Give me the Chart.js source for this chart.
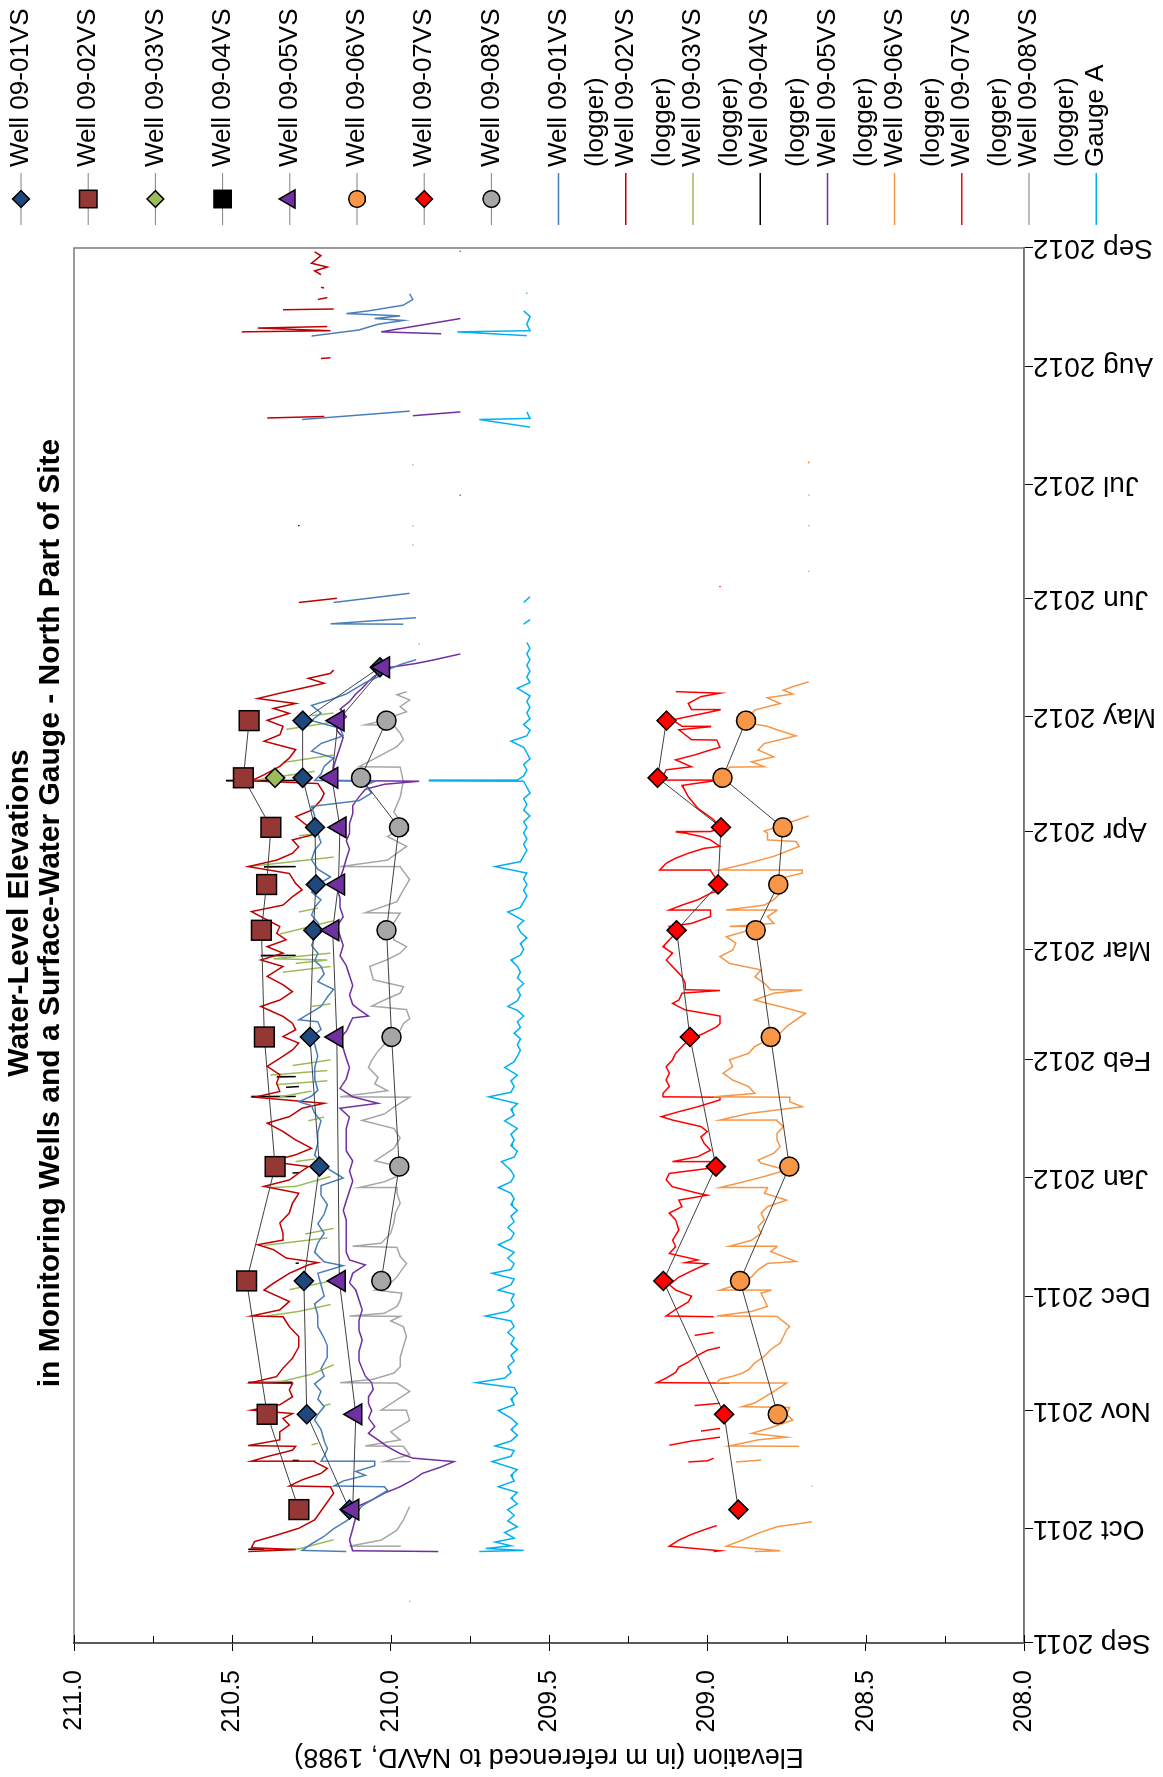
<!DOCTYPE html>
<html>
<head>
<meta charset="utf-8">
<script src="https://cdn.jsdelivr.net/npm/chart.js@4.4.0/dist/chart.umd.min.js"></script>
<style>
  html, body { margin: 0; padding: 0; background: #fff; overflow: hidden; }
  #wrap { position: absolute; left: 0; top: 0; width: 1777px; height: 1163px;
          transform-origin: 0 0; transform: translateY(1777px) rotate(-90deg); background: #fff; }
  canvas { display: block; }
</style>
</head>
<body>
<div id="wrap"><canvas id="chart" width="1777" height="1163"></canvas></div>
<script>
// x values are days since 1 Sep 2011
const monthDays = [0, 30, 61, 91, 122, 153, 182, 213, 243, 274, 304, 335, 366];
const monthLabels = ['Sep 2011', 'Oct 2011', 'Nov 2011', 'Dec 2011', 'Jan 2012', 'Feb 2012', 'Mar 2012',
  'Apr 2012', 'May 2012', 'Jun 2012', 'Jul 2012', 'Aug 2012', 'Sep 2012'];
const elevTicks = [208.0, 208.5, 209.0, 209.5, 210.0, 210.5, 211.0];

// manual measurements (site visits)
const visitDays = [35, 60, 95, 125, 159, 187, 199, 214, 227, 242, 256];
const well01 = [210.13, 210.265, 210.274, 210.225, 210.255, 210.244, 210.236, 210.239, 210.278, 210.278, 210.034];
const well02 = [210.29, 210.39, 210.455, 210.365, 210.399, 210.408, 210.392, 210.378, 210.465, 210.447, null];
const well03 = [null, null, null, null, null, null, null, null, 210.365, null, null];
const well04 = [null, null, null, null, null, null, null, null, null, null, null];
const well05 = [210.12, 210.11, 210.162, null, 210.17, 210.183, 210.165, 210.16, 210.186, 210.166, 210.023];
const well06 = [null, 208.778, 208.897, 208.741, 208.8, 208.847, 208.776, 208.762, 208.952, 208.878, null];
const well07 = [208.902, 208.947, 209.139, 208.973, 209.055, 209.097, 208.966, 208.957, 209.157, 209.129, null];
const well08 = [null, null, 210.03, 209.973, 209.997, 210.013, null, 209.974, 210.094, 210.013, null];

// logger records [day, elevation]; null elevation = gap
const logger01 = [[24,210.14],[24.3,210.28],[26,210.25],[28,210.21],[30,210.18],[32,210.14],[34,210.11],[36,210.09],[38.5,210.04],[40,210.01],[41,210.02],[41.2,210.18],[42.5,210.15],[44,210.08],[45,210.11],[46.5,210.05],[47.5,210.05],[47.7,210.22],[49,210.21],[51,210.20],[53,210.21],[56,210.22],[58.5,210.24],[60,210.23],[62,210.21],[64,210.23],[66,210.22],[68,210.24],[70,210.21],[72,210.22],[75,210.20],[78,210.20],[80,210.21],[83,210.23],[86,210.23],[89,210.24],[91,210.21],[94,210.22],[97,210.23],[99,210.15],[100,210.21],[102.5,210.24],[105,210.23],[107.5,210.21],[110,210.23],[112.5,210.21],[115,210.20],[117.5,210.22],[120,210.22],[122,210.15],[124,210.19],[126,210.22],[128,210.24],[131,210.23],[134,210.23],[137,210.22],[139,210.24],[141,210.25],[142,210.29],[143.5,210.25],[145,210.23],[148,210.24],[151,210.24],[154,210.23],[157,210.24],[159,210.25],[161,210.22],[163,210.23],[163.5,210.29],[165,210.26],[167,210.22],[169.5,210.20],[171.5,210.18],[173.5,210.23],[175.5,210.21],[177.5,210.22],[179,210.24],[181,210.23],[183,210.25],[185,210.24],[187,210.22],[189,210.23],[191,210.25],[193,210.24],[195,210.22],[197,210.25],[199,210.23],[201,210.19],[203,210.23],[205.5,210.25],[208,210.24],[210,210.22],[212.5,210.23],[214.5,210.25],[217,210.24],[219.5,210.25],[221,210.10],[223,210.06],[225,210.08],[226.1,210.05],[226.3,210.24],[228,210.22],[230,210.21],[232.2,210.18],[234,210.25],[236,210.22],[238,210.15],[240,210.16],[242,210.25],[244,210.22],[246,210.25],[247.5,210.19],[249,210.14],[250.5,210.11],[252,210.08],[253.5,210.04],[255,210.02],[256.7,209.97],[258,209.92],[258.1,null],[262,209.91],[262.2,209.91],[262.3,null],[267.3,209.96],[267.4,210.19],[269,209.92],[269.1,null],[273,210.18],[275.4,209.94],[275.5,null],[288,209.93],[288.2,209.93],[288.3,null],[293,209.93],[293.2,209.93],[293.3,null],[309,209.93],[309.2,209.93],[309.3,null],[321,210.28],[323.2,209.94],[323.3,null],[342.9,210.25],[344.5,210.10],[346,210.04],[347,209.96],[347.5,210.05],[348.2,209.97],[348.8,210.14],[349.5,210.07],[351,209.96],[352.5,209.93],[354,209.94]];
const logger02 = [[24,210.45],[24.5,210.30],[25,210.44],[26.6,210.43],[28.3,210.36],[30.1,210.29],[32.3,210.24],[35.8,210.21],[39.3,210.18],[41,210.19],[41.2,210.32],[42.8,210.28],[44.5,210.22],[45.8,210.20],[47.5,210.24],[47.7,210.44],[48.9,210.39],[50.6,210.31],[51.6,210.30],[51.8,210.45],[53.3,210.35],[55.4,210.35],[57.2,210.32],[58.9,210.34],[60.2,210.31],[61.1,210.44],[62.5,210.35],[64.6,210.31],[66.4,210.32],[68.1,210.31],[68.3,210.44],[69.9,210.36],[72.1,210.34],[74.7,210.31],[77.7,210.29],[80.4,210.29],[83,210.32],[85.6,210.34],[85.8,210.44],[87.4,210.35],[89.6,210.32],[92.6,210.40],[94.4,210.37],[97,210.32],[99.2,210.26],[99.8,210.23],[101,210.33],[103.2,210.37],[104.5,210.42],[105.7,210.34],[107.5,210.34],[110.2,210.35],[112.8,210.32],[115.4,210.31],[118,210.29],[119.8,210.40],[121.5,210.32],[123.3,210.29],[125,210.26],[126.3,210.38],[128.1,210.30],[129.8,210.25],[132,210.30],[134.2,210.34],[136.4,210.39],[138.1,210.32],[140.3,210.28],[141.6,210.21],[143.2,210.43],[144.7,210.35],[146.9,210.36],[149.1,210.35],[151.3,210.39],[153.4,210.35],[155.6,210.31],[157.4,210.29],[159.1,210.34],[160.9,210.30],[162.6,210.31],[164.4,210.34],[167,210.41],[168.7,210.35],[170.9,210.31],[172.7,210.34],[174.9,210.39],[177.5,210.34],[179.2,210.41],[181,210.34],[182.7,210.39],[184.5,210.33],[186.2,210.36],[188,210.35],[189.7,210.39],[191.9,210.44],[193.6,210.34],[195.8,210.31],[197.6,210.28],[199.3,210.30],[201.9,210.32],[203.7,210.45],[205.4,210.36],[207.2,210.31],[208.9,210.29],[210.7,210.31],[212.4,210.23],[214.2,210.26],[216.8,210.30],[218.5,210.25],[221.2,210.22],[222.9,210.21],[225.5,210.23],[226.2,210.44],[227.8,210.40],[230,210.35],[232.2,210.32],[234.4,210.30],[236.6,210.40],[238.3,210.35],[240.5,210.34],[242.1,210.39],[243.9,210.32],[245.2,210.37],[246.5,210.30],[247.8,210.42],[249.2,210.35],[250.5,210.28],[251.8,210.21],[253.1,210.26],[254.4,210.19],[255.3,210.18],[255.4,null],[273,210.29],[274.1,210.17],[274.2,null],[321.4,210.39],[321.8,210.21],[321.9,null],[337,210.22],[337.2,210.19],[337.3,null],[344,210.47],[344.3,210.19],[345,210.42],[345.4,210.20],[345.5,null],[349.8,210.34],[350,210.18],[350.1,null],[352.5,210.23],[353,210.20],[353.1,null],[355.5,210.21],[355.7,210.22],[355.8,null],[359,210.22],[360,210.24],[361,210.20],[362,210.25],[364,210.22],[365,210.24]];
const logger03 = [[24.4,210.40],[24.7,210.29],[27.1,210.18],[27.2,null],[52,210.25],[52.4,210.23],[52.5,null],[62.3,210.21],[62.7,210.19],[62.8,null],[68.3,210.44],[68.7,210.34],[70.5,210.25],[73,210.18],[73.1,null],[85.8,210.39],[87,210.29],[88.8,210.19],[88.9,null],[92.7,210.32],[94.8,210.20],[94.9,null],[104.3,210.40],[106.3,210.20],[106.4,null],[107.3,210.27],[108.8,210.18],[108.9,null],[119.5,210.38],[119.8,210.30],[122.4,210.19],[122.5,null],[126.3,210.30],[127,210.24],[127.1,null],[137,210.26],[138,210.21],[138.1,null],[143.3,210.35],[144.8,210.25],[144.9,null],[146.5,210.36],[147.5,210.20],[147.6,null],[149,210.38],[150.2,210.20],[150.3,null],[151.5,210.31],[153,210.19],[153.1,null],[167,210.25],[167.7,210.19],[167.8,null],[176,210.34],[177.5,210.19],[177.6,null],[178.3,210.30],[179.2,210.20],[179.5,210.37],[181,210.19],[181.1,null],[186,210.35],[189.5,210.18],[189.6,null],[191.8,210.29],[192.8,210.23],[192.9,null],[203.7,210.45],[206.2,210.18],[206.3,null],[211.8,210.29],[212.4,210.23],[212.5,null],[226.2,210.44],[228.7,210.24],[228.8,null],[231,210.34],[233,210.18],[233.1,null],[239.7,210.33],[241.5,210.19],[241.6,null],[243.3,210.25],[244,210.18]];
const logger04 = [[24.6,210.45],[24.7,210.36],[24.8,null],[47.8,210.31],[47.9,210.29],[48,null],[68.3,210.45],[68.4,210.31],[68.5,null],[99.6,210.30],[99.7,210.29],[99.8,null],[123.3,210.31],[123.4,210.29],[123.5,null],[143.3,210.44],[143.4,210.30],[143.5,null],[145.8,210.33],[146,210.29],[146.1,null],[148.5,210.36],[148.6,210.30],[148.7,null],[180.3,210.41],[180.4,210.30],[180.5,null],[203.6,210.40],[203.7,210.30],[203.8,null],[226.2,210.52],[226.3,210.26],[226.4,null],[293,210.29],[293.3,210.29]];
const logger05 = [[24,209.85],[24.2,210.12],[27,210.13],[30,210.12],[33,210.11],[35,210.11],[36,210.10],[37.5,210.06],[39.3,210.02],[41,209.97],[42.8,209.93],[44.5,209.90],[46.2,209.84],[47.6,209.80],[48.5,209.93],[49.7,209.97],[51.5,210.01],[53.3,210.04],[55,210.07],[56.8,210.05],[59,210.07],[61,210.06],[62.8,210.07],[64.6,210.07],[66.5,210.055],[68.3,210.06],[70,210.08],[72,210.09],[74,210.10],[76.5,210.10],[79.5,210.09],[82,210.10],[84.7,210.10],[87.4,210.09],[90,210.10],[92.6,210.11],[94.5,210.13],[97,210.12],[99.2,210.08],[100.5,210.13],[102.5,210.14],[105,210.14],[108.5,210.14],[111,210.14],[113.5,210.15],[116,210.14],[118.6,210.13],[121.2,210.12],[123.8,210.13],[126.5,210.12],[129.1,210.14],[131.7,210.14],[135,210.14],[138,210.13],[140.3,210.16],[141.6,210.04],[143.3,210.12],[145.5,210.16],[148,210.14],[151,210.13],[153.4,210.14],[156,210.15],[158.7,210.16],[160.5,210.14],[162.3,210.13],[164,210.12],[164.5,210.07],[166.2,210.10],[167.5,210.12],[170,210.13],[172.5,210.12],[175.1,210.13],[177.7,210.14],[180.3,210.16],[183,210.15],[185.5,210.16],[188,210.17],[190.5,210.15],[193,210.16],[195.5,210.16],[198,210.17],[200.5,210.16],[203,210.15],[205.7,210.14],[208.3,210.13],[210.5,210.14],[212.4,210.13],[215,210.13],[217.6,210.12],[219.7,210.12],[222,210.10],[224,210.08],[225.3,210.02],[226.1,209.91],[226.3,210.18],[228,210.18],[230,210.18],[232.5,210.17],[235,210.16],[237.6,210.15],[239.4,210.17],[241.1,210.17],[243,210.14],[245,210.16],[247,210.13],[249,210.11],[250.5,210.09],[252.3,210.07],[253.8,210.05],[255,210.02],[256,210.0],[257,209.92],[258,209.86],[259.5,209.78],[259.6,null],[301,209.78],[301.3,209.78],[301.4,null],[322,209.93],[323,209.78],[323.1,null],[343.5,209.84],[344,210.03],[347.5,209.78],[347.6,null],[365,209.78],[365.3,209.78]];
const logger06 = [[24,208.85],[24.2,208.77],[25.4,208.94],[27,208.89],[28.8,208.84],[30.5,208.78],[31.2,208.72],[31.8,208.67],[31.9,null],[41,208.67],[41.3,208.67],[41.4,null],[47.5,208.91],[48,208.83],[48.1,null],[51.6,208.71],[51.7,208.93],[53.3,208.84],[54,208.75],[55,208.86],[56.5,208.80],[58.5,208.73],[60,208.75],[61.8,208.74],[62,208.89],[63,208.85],[64.5,208.82],[66,208.79],[68.2,208.75],[68.3,208.97],[69.2,208.96],[70,208.92],[70.8,208.89],[71.7,208.87],[73.5,208.85],[75.2,208.82],[77,208.80],[78.7,208.77],[80.4,208.76],[82.2,208.75],[83,208.74],[85.7,208.78],[85.8,208.97],[87,208.86],[88.3,208.81],[90,208.82],[91.8,208.83],[92.5,208.80],[92.6,208.96],[94.4,208.89],[96.1,208.86],[97.9,208.84],[99.6,208.81],[100.1,208.72],[101.4,208.76],[102.7,208.80],[104,208.78],[104.1,208.93],[105.7,208.86],[107.5,208.83],[109.2,208.84],[111,208.82],[112.8,208.83],[114.5,208.81],[116.2,208.75],[118,208.82],[119.4,208.81],[119.5,208.96],[120.7,208.90],[122.4,208.82],[124.1,208.75],[125.9,208.83],[126.7,208.84],[128.5,208.79],[130.2,208.77],[132,208.78],[133.7,208.78],[135.5,208.76],[137,208.78],[137.2,208.96],[138.9,208.87],[140.7,208.70],[142,208.74],[143.2,208.74],[143.3,208.98],[144.2,208.85],[146,208.87],[147.7,208.92],[149.5,208.95],[151.2,208.92],[153,208.93],[154.7,208.87],[156.5,208.85],[158.2,208.81],[160,208.77],[161.7,208.75],[163.5,208.72],[165.2,208.69],[166.1,208.73],[167,208.77],[167.8,208.81],[168.7,208.85],[169.6,208.82],[170.5,208.79],[171.3,208.70],[171.4,208.80],[173.1,208.82],[174.8,208.85],[176.6,208.83],[178.3,208.93],[180.1,208.96],[181.8,208.92],[183.6,208.91],[185.3,208.94],[187.9,208.83],[188,208.93],[188.8,208.79],[190.6,208.81],[192.2,208.78],[192.3,208.94],[193.6,208.82],[195,208.79],[196.7,208.77],[197.6,208.78],[200.2,208.79],[202,208.70],[202.7,208.70],[202.8,208.96],[204.6,208.87],[205.5,208.83],[206.4,208.79],[207.7,208.75],[209,208.71],[210.3,208.72],[210.7,208.81],[212.5,208.81],[213,208.82],[215,208.75],[217,208.68],[217.1,null],[226.4,208.96],[227.3,208.95],[229.8,208.93],[229.9,208.82],[231.2,208.86],[232.5,208.79],[234.3,208.84],[236,208.82],[238,208.72],[239.6,208.78],[240.5,208.81],[241.5,208.88],[243,208.87],[244.8,208.85],[246.5,208.77],[248,208.81],[249,208.73],[250,208.76],[250.9,208.73],[252.2,208.68],[252.3,null],[281,208.68],[281.3,208.68],[281.4,null],[293,208.68],[293.3,208.68],[293.4,null],[301,208.68],[301.3,208.68],[301.4,null],[309.5,208.68],[310,208.68]];
const logger07 = [[24,208.98],[24.2,208.96],[25.4,209.12],[27,209.09],[28.5,209.05],[30,209.00],[30.8,208.97],[30.9,null],[47.5,209.06],[47.8,209.00],[48.5,208.98],[48.6,null],[51.9,209.12],[53,209.05],[54,208.96],[54.1,null],[55.6,209.02],[56.3,208.96],[56.4,null],[62.3,209.04],[62.9,208.96],[63,null],[68.2,208.93],[68.3,209.16],[69.5,209.13],[71,209.10],[72.4,209.09],[73.7,209.06],[75.5,209.03],[76.8,209.00],[77.6,208.96],[77.7,null],[80.7,209.04],[81.5,208.98],[81.6,null],[85.6,208.98],[85.8,209.13],[87.5,209.10],[89.5,209.06],[91,209.05],[92.6,209.10],[94,209.12],[96,209.09],[98,209.04],[99.5,209.00],[99.8,209.07],[100.5,209.03],[102.2,209.12],[104,209.10],[105.7,209.11],[108.4,209.09],[111,209.10],[112.8,209.12],[114.5,209.08],[116.2,209.09],[117.5,209.00],[118,209.03],[119.7,209.11],[121.5,209.13],[123.2,209.12],[124.8,208.97],[126.2,208.97],[126.3,209.11],[127.6,209.03],[129.3,208.99],[131.1,209.01],[132.8,209.02],[134.2,209.00],[135.5,209.02],[137.2,209.11],[138.1,209.145],[139.4,209.09],[140.7,209.03],[142.5,208.96],[143.2,208.96],[143.3,209.14],[144.2,209.14],[146,209.12],[147.7,209.13],[149.5,209.12],[151.2,209.13],[153,209.11],[154.7,209.10],[156.5,209.08],[158.2,209.06],[160,209.01],[161.7,208.97],[162.5,208.96],[164.5,208.96],[166.1,209.07],[167.8,209.11],[168.7,209.09],[170.5,209.08],[171.2,208.96],[171.4,209.07],[173.1,209.07],[174.8,209.08],[176.6,209.10],[179.2,209.13],[181,209.11],[182.7,209.14],[184.5,209.12],[186.2,209.10],[188,209.12],[188.8,209.05],[190.6,208.99],[192.2,208.99],[192.3,209.12],[193.6,209.08],[195,209.03],[196.7,208.99],[197.6,208.96],[200.2,208.97],[202.7,208.99],[202.8,209.15],[204.6,209.13],[205.9,209.10],[207.2,209.06],[208.5,209.01],[209,208.96],[210.7,208.99],[211.6,209.02],[212.5,209.07],[212.8,209.10],[212.9,208.99],[213.8,208.96],[216,208.98],[219,209.03],[222,209.06],[225,209.08],[226.2,208.98],[226.4,209.16],[227.3,209.14],[229.1,209.13],[229.9,209.05],[231.7,209.10],[233,209.04],[234.3,208.99],[235,208.96],[236.9,208.97],[237,209.05],[239.6,209.09],[240.4,208.99],[240.5,209.08],[242.2,209.11],[244.8,208.96],[244.9,209.05],[246.5,209.06],[248.3,209.02],[249.2,208.96],[249.6,209.10],[249.7,null],[277,208.96],[277.3,208.96]];
const logger08 = [[10.8,209.94],[11.1,209.94],[11.2,null],[25.3,209.97],[25.4,210.13],[27,210.03],[29.6,209.98],[32.3,209.96],[35.8,209.94],[35.9,null],[47.5,209.94],[47.6,210.02],[49.4,209.94],[51.6,209.96],[51.7,210.08],[53.3,209.97],[55.4,210.00],[58.4,209.94],[60.9,209.95],[61.1,210.03],[66,209.94],[68.2,209.98],[68.3,210.16],[69.2,210.055],[70.8,209.99],[72.5,209.97],[75,209.97],[77.7,209.96],[80.4,209.95],[83,209.96],[84.5,210.0],[85.7,209.97],[85.8,210.13],[86.5,210.02],[88.3,209.98],[90,209.97],[91.8,209.965],[92.6,210.05],[94.4,210.0],[96.1,209.98],[97.9,209.965],[99.6,209.95],[101.4,209.97],[103.8,209.98],[104.1,210.12],[104.9,210.03],[107.5,210.0],[110.2,209.99],[112.8,209.985],[115.4,209.97],[118,209.98],[119.4,209.98],[119.5,210.10],[121,210.02],[122.8,209.97],[125,209.97],[126.5,210.05],[128.1,210.02],[129.8,209.99],[132.5,209.97],[135,209.99],[137.1,210.09],[138.8,210.02],[140.6,209.99],[143.2,209.94],[143.3,210.16],[144.9,210.01],[146.7,210.05],[148.4,210.04],[151,210.07],[152.8,210.06],[155.3,210.04],[157.1,210.02],[159,209.99],[160.7,209.97],[162.5,209.96],[163.8,209.94],[166.2,209.95],[167.1,210.06],[168.7,210.02],[170.5,209.97],[172.2,209.96],[174,210.055],[177.5,210.066],[179.2,210.013],[181,209.97],[182.7,209.95],[184.5,209.99],[186.2,209.99],[187,210.01],[189,209.99],[191.5,209.97],[191.6,210.08],[194.5,209.98],[197.6,209.96],[200.3,209.94],[203.6,209.97],[203.7,210.16],[205.4,210.01],[207.2,209.98],[209,209.95],[211.6,210.01],[213,209.98],[214.5,209.96],[218,209.99],[222,209.97],[226,209.96],[229.8,209.97],[229.9,210.10],[232.5,210.04],[235.2,209.98],[237,209.96],[238.7,209.97],[240.8,209.99],[240.9,210.08],[242.3,210.01],[243.5,209.98],[244.3,209.95],[245.7,209.97],[247.4,209.94],[248.8,209.98],[249.6,209.95]];
const gaugeA = [[24,209.72],[24.3,209.58],[24.8,209.70],[25.5,209.62],[26.5,209.67],[27.5,209.61],[29,209.64],[30.5,209.60],[32,209.63],[33.5,209.61],[35,209.63],[36.5,209.60],[38,209.62],[39.5,209.60],[41,209.66],[42.5,209.61],[44,209.62],[45.5,209.60],[47.6,209.68],[49,209.62],[50.5,209.61],[51.7,209.67],[53,209.62],[54.5,209.60],[56,209.62],[57.5,209.60],[59,209.62],[61,209.66],[62.5,209.61],[64,209.62],[65.5,209.60],[67,209.61],[68.3,209.73],[69.5,209.64],[71,209.62],[72.5,209.63],[74,209.61],[75.5,209.62],[77,209.60],[78.5,209.62],[80,209.61],[81.5,209.63],[83,209.61],[84.5,209.62],[85.8,209.70],[87,209.63],[88.5,209.61],[90,209.62],[91.5,209.61],[92.6,209.66],[94,209.62],[95.5,209.61],[97,209.68],[98,209.62],[99.5,209.61],[101,209.63],[102.5,209.61],[104.5,209.66],[106,209.62],[107.5,209.61],[109,209.63],[110.5,209.61],[112,209.62],[113.5,209.60],[115,209.62],[116.5,209.61],[118,209.62],[119.5,209.66],[121,209.62],[122.5,209.61],[124,209.62],[126.3,209.65],[127.5,209.61],[129,209.60],[130.5,209.62],[132,209.61],[133.5,209.62],[135,209.60],[137,209.64],[138.5,209.61],[140,209.62],[141.5,209.60],[143.3,209.69],[144.5,209.62],[146,209.61],[147.5,209.62],[149,209.60],[151,209.64],[152.5,209.61],[154,209.60],[155.5,209.59],[157,209.60],[158.5,209.59],[160,209.61],[161.5,209.59],[163,209.60],[164.5,209.58],[166,209.60],[167,209.63],[168.5,209.60],[170,209.59],[171.5,209.60],[173,209.58],[174.5,209.60],[176,209.59],[177.5,209.60],[179.2,209.62],[180.5,209.59],[182,209.58],[183.5,209.59],[185,209.57],[186.5,209.59],[188,209.60],[189.5,209.58],[191.8,209.63],[193,209.59],[194.5,209.58],[196,209.57],[197.5,209.58],[199,209.57],[200.5,209.58],[202,209.57],[203.7,209.67],[205,209.59],[206.5,209.58],[208,209.57],[209.5,209.58],[211,209.57],[212.5,209.58],[214,209.57],[215.5,209.58],[217,209.56],[218.5,209.58],[220,209.57],[221.5,209.58],[223,209.56],[224.5,209.57],[226.1,209.58],[226.2,209.88],[226.4,209.60],[227.5,209.58],[229,209.57],[230.5,209.58],[232,209.56],[233.5,209.57],[235,209.58],[236.6,209.62],[238,209.57],[239.5,209.56],[241,209.58],[242.5,209.56],[244,209.57],[245.5,209.56],[247,209.57],[248.5,209.56],[250.5,209.60],[252,209.56],[253.5,209.57],[255,209.56],[256.5,209.57],[258,209.56],[259.5,209.57],[261,209.56],[262.5,209.57],[262.6,null],[267.3,209.58],[268.5,209.56],[268.6,null],[273,209.58],[274.5,209.56],[274.6,null],[319,209.56],[321,209.72],[321.3,209.56],[323,209.57],[323.1,null],[343,209.57],[344,209.79],[344.3,209.56],[346,209.57],[348,209.56],[349.5,209.58],[349.6,null],[354,209.57],[354.3,209.57]];

const FONT = '"Liberation Sans", Arial, Helvetica, sans-serif';

const markerSeries = [
  { label: 'Well 09-01VS', values: well01, shape: 'rectRot', fill: '#1F497D', r: 9.5 },
  { label: 'Well 09-02VS', values: well02, shape: 'rect', fill: '#953735', r: 14 },
  { label: 'Well 09-03VS', values: well03, shape: 'rectRot', fill: '#9BBB59', r: 9.5 },
  { label: 'Well 09-04VS', values: well04, shape: 'rect', fill: '#000000', r: 14 },
  { label: 'Well 09-05VS', values: well05, shape: 'triangle', fill: '#7030A0', r: 12 },
  { label: 'Well 09-06VS', values: well06, shape: 'circle', fill: '#F79646', r: 9.5 },
  { label: 'Well 09-07VS', values: well07, shape: 'rectRot', fill: '#FF0000', r: 9.5 },
  { label: 'Well 09-08VS', values: well08, shape: 'circle', fill: '#A6A6A6', r: 9.5 }
];
const lineSeries = [
  { label: 'Well 09-01VS\n(logger)', values: logger01, color: '#4A7EBB' },
  { label: 'Well 09-02VS\n(logger)', values: logger02, color: '#C00000' },
  { label: 'Well 09-03VS\n(logger)', values: logger03, color: '#9BBB59' },
  { label: 'Well 09-04VS\n(logger)', values: logger04, color: '#000000' },
  { label: 'Well 09-05VS\n(logger)', values: logger05, color: '#7030A0' },
  { label: 'Well 09-06VS\n(logger)', values: logger06, color: '#F79646' },
  { label: 'Well 09-07VS\n(logger)', values: logger07, color: '#FF0000' },
  { label: 'Well 09-08VS\n(logger)', values: logger08, color: '#A6A6A6' },
  { label: 'Gauge A', values: gaugeA, color: '#00B0F0' }
];

const datasets = [];
markerSeries.forEach((s, i) => {
  datasets.push({
    label: s.label,
    data: visitDays.map((d, k) => ({ x: d, y: s.values[k] })),
    showLine: true, spanGaps: true,
    borderColor: '#404040', borderWidth: 1,
    pointStyle: s.shape, pointRadius: s.r, pointHoverRadius: s.r,
    pointBackgroundColor: s.fill, pointBorderColor: '#000', pointBorderWidth: 1.5,
    order: 7 - i
  });
});
lineSeries.forEach((s, i) => {
  datasets.push({
    label: s.label,
    data: s.values.map(p => ({ x: p[0], y: p[1] })),
    showLine: true, spanGaps: false,
    borderColor: s.color, borderWidth: 1.5,
    pointRadius: 0, pointHoverRadius: 0,
    order: 8 + i
  });
});

function drawMarker(ctx, shape, x, y, r, fill) {
  ctx.beginPath();
  if (shape === 'circle') {
    ctx.arc(x, y, r, 0, Math.PI * 2);
  } else if (shape === 'rect') {
    const h = r * Math.SQRT1_2;
    ctx.rect(x - h, y - h, 2 * h, 2 * h);
  } else if (shape === 'rectRot') {
    ctx.moveTo(x, y - r); ctx.lineTo(x + r, y); ctx.lineTo(x, y + r); ctx.lineTo(x - r, y);
    ctx.closePath();
  } else if (shape === 'triangle') {
    ctx.moveTo(x, y - r);
    ctx.lineTo(x + 0.866 * r, y + 0.5 * r);
    ctx.lineTo(x - 0.866 * r, y + 0.5 * r);
    ctx.closePath();
  }
  ctx.fillStyle = fill;
  ctx.fill();
  ctx.lineWidth = 1.5;
  ctx.strokeStyle = '#000';
  ctx.stroke();
}

// frame, minor ticks, title and legend
const decor = {
  id: 'decor',
  beforeDraw(chart) {
    const ctx = chart.ctx;
    ctx.save();
    ctx.fillStyle = '#fff';
    ctx.fillRect(0, 0, chart.width, chart.height);
    ctx.restore();
  },
  beforeDatasetsDraw(chart) {
    const { ctx, chartArea: a } = chart;
    ctx.save();
    ctx.strokeStyle = '#7a7a7a';
    ctx.lineWidth = 1.5;
    ctx.strokeRect(a.left, a.top, a.right - a.left, a.bottom - a.top);
    ctx.restore();
  },
  afterDraw(chart) {
    const { ctx, chartArea: a } = chart;
    const y = chart.scales.y;
    ctx.save();
    ctx.strokeStyle = '#000';
    ctx.lineWidth = 1;
    for (let v = 208; v <= 211.001; v += 0.25) {
      const py = Math.round(y.getPixelForValue(v)) + 0.5;
      const major = Math.abs(v * 2 - Math.round(v * 2)) < 1e-6;
      ctx.beginPath();
      ctx.moveTo(a.left, py);
      ctx.lineTo(a.left + (major ? 8 : 7), py);
      ctx.stroke();
    }
    // title
    ctx.fillStyle = '#000';
    ctx.textAlign = 'center';
    ctx.textBaseline = 'alphabetic';
    ctx.font = 'bold 30px ' + FONT;
    ctx.fillText('Water-Level Elevations', 864, 28);
    ctx.fillText('in Monitoring Wells and a Surface-Water Gauge - North Part of Site', 864, 59);
    // legend
    const items = markerSeries.map(s => ({ label: s.label, line: '#808080', lw: 1, s }))
      .concat(lineSeries.map(s => ({ label: s.label, line: s.color, lw: 1.5 })));
    ctx.font = '26px ' + FONT;
    ctx.textAlign = 'left';
    ctx.textBaseline = 'middle';
    items.forEach((it, i) => {
      const cy = 21 + 67.2 * i;
      ctx.strokeStyle = it.line;
      ctx.lineWidth = it.lw;
      ctx.beginPath();
      ctx.moveTo(1552, cy);
      ctx.lineTo(1604, cy);
      ctx.stroke();
      if (it.s) drawMarker(ctx, it.s.shape, 1578, cy, it.s.r * 0.88, it.s.fill);
      ctx.fillStyle = '#000';
      it.label.split('\n').forEach((t, k) => ctx.fillText(t, 1610, cy + 37 * k));
    });
    ctx.restore();
  }
};

new Chart(document.getElementById('chart'), {
  type: 'scatter',
  data: { datasets },
  options: {
    responsive: false,
    animation: false,
    devicePixelRatio: 1,
    layout: { padding: { left: 0, right: 248, top: 74, bottom: 0 } },
    elements: { line: { tension: 0 } },
    plugins: { legend: { display: false }, title: { display: false }, tooltip: { enabled: false } },
    scales: {
      x: {
        type: 'linear', min: 0, max: 366,
        afterBuildTicks: s => { s.ticks = monthDays.map(v => ({ value: v })); },
        afterFit: s => { s.height = 139; },
        ticks: {
          autoSkip: false, minRotation: 90, maxRotation: 90, padding: 0,
          color: '#000', font: { family: FONT, size: 28 },
          callback: v => monthLabels[monthDays.indexOf(v)]
        },
        grid: { drawOnChartArea: false, drawTicks: true, tickLength: 9, color: '#000', lineWidth: 1 },
        border: { display: true, color: '#606060', width: 1.5 }
      },
      y: {
        min: 208, max: 211,
        afterBuildTicks: s => { s.ticks = elevTicks.map(v => ({ value: v })); },
        afterFit: s => { s.width = 134; },
        ticks: {
          padding: 19, color: '#000', font: { family: FONT, size: 25 },
          callback: v => Number(v).toFixed(1)
        },
        grid: { drawOnChartArea: false, drawTicks: true, tickLength: 8, color: '#000', lineWidth: 1 },
        border: { display: true, color: '#000', width: 2 },
        title: {
          display: true, text: 'Elevation (in m referenced to NAVD, 1988)', color: '#000',
          font: { family: FONT, size: 27 }, padding: { top: 4, bottom: 0 }
        }
      }
    }
  },
  plugins: [decor]
});
</script>
</body>
</html>
